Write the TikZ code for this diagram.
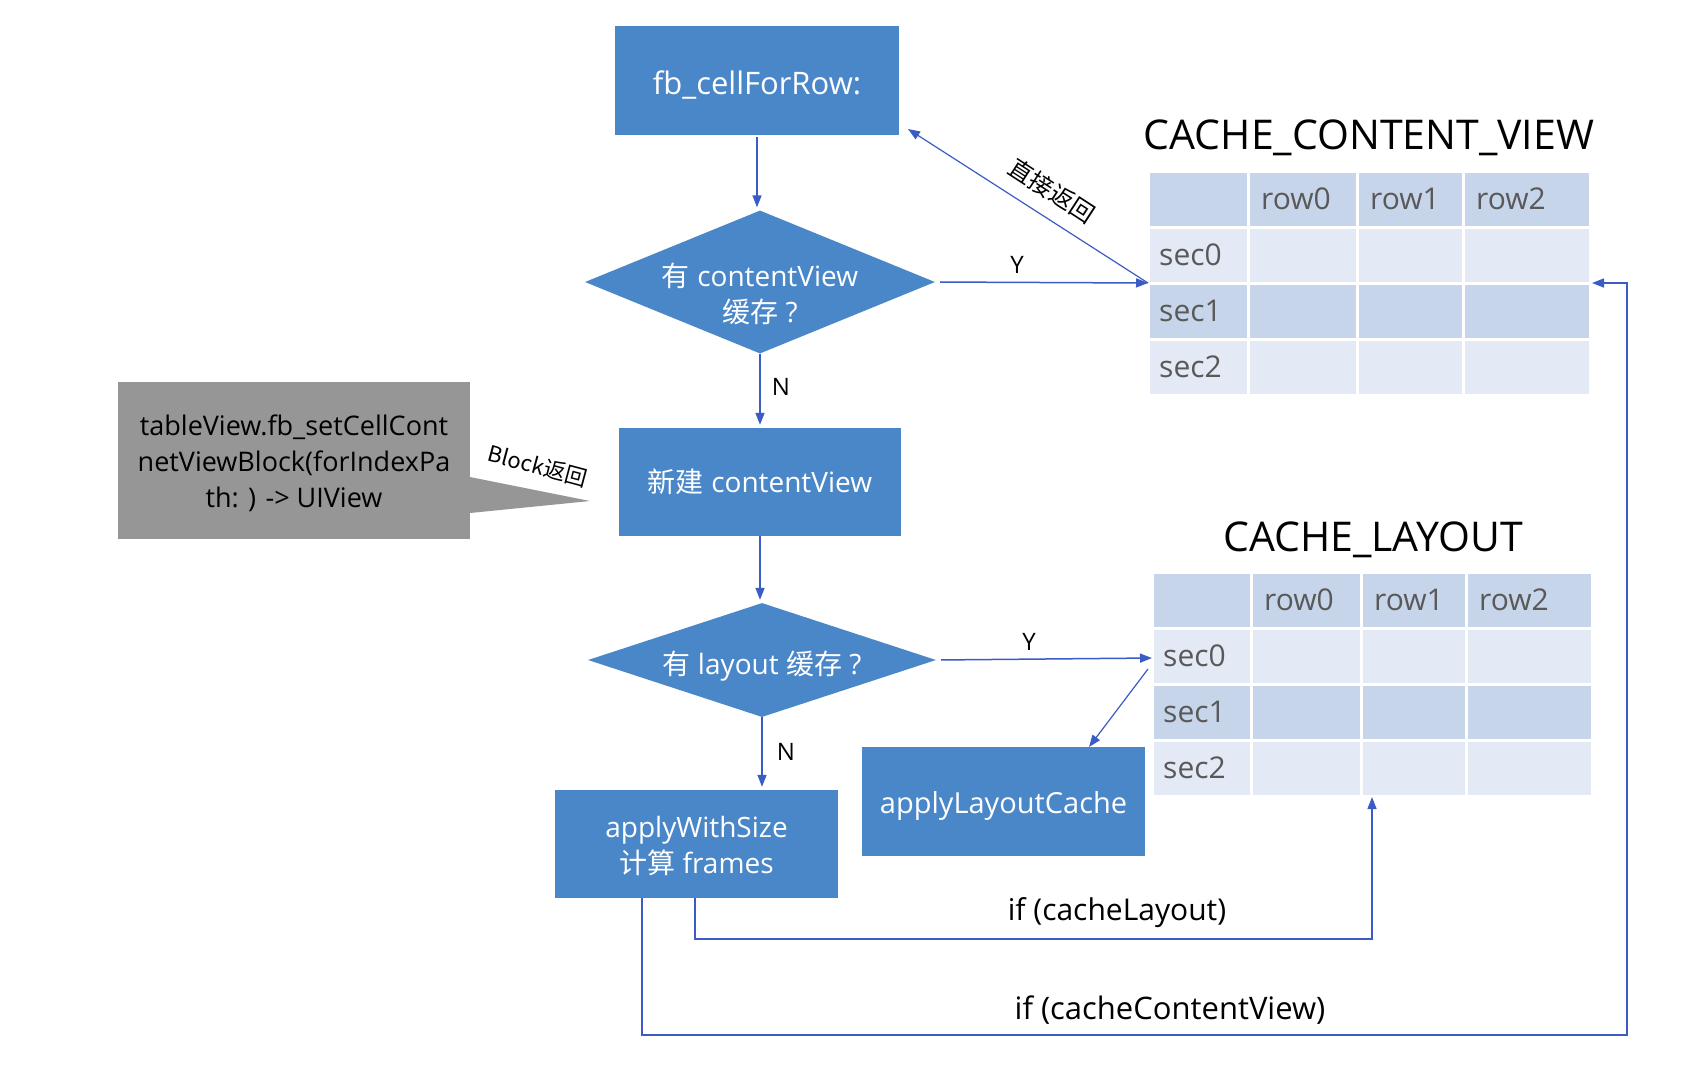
\documentclass[tikz,border=0pt]{standalone}
\usepackage{fontspec}
\setmainfont{Open Sans}
\newfontfamily\cjk{Noto Sans CJK SC}
\usetikzlibrary{arrows.meta,shapes.geometric}
\definecolor{boxblue}{RGB}{74,135,201}
\definecolor{lineblue}{RGB}{58,92,196}
\definecolor{celldark}{RGB}{199,213,235}
\definecolor{celllight}{RGB}{227,234,245}
\definecolor{celltext}{RGB}{89,89,89}
\definecolor{calloutgray}{RGB}{150,150,150}
\tikzset{
  fbox/.style={rectangle, fill=boxblue, text=white, inner sep=0pt, align=center, font=\fontsize{28}{36}\selectfont},
  boxtxt/.style={inner sep=0pt, text=white, align=center, font=\fontsize{28}{36}\selectfont},
  dec/.style={diamond, fill=boxblue, inner sep=0pt},
  dectext/.style={inner sep=0pt, text=white, align=center, font=\fontsize{28}{36}\selectfont},
  conn/.style={draw=lineblue, line width=1.5pt, -{Triangle[length=12pt,width=9pt]}},
  lbl/.style={inner sep=0pt, text=black, font=\fontsize{24}{28}\selectfont},
  biglbl/.style={inner sep=0pt, text=black, font=\fontsize{30}{36}\selectfont},
  celltxt/.style={inner sep=0pt, anchor=west, text=celltext, font=\fontsize{30}{36}\selectfont},
  ttl/.style={inner sep=0pt, text=black, font=\fontsize{41}{48}\selectfont},
}
\begin{document}
\begin{tikzpicture}[x=1pt,y=-1pt]
\useasboundingbox (0,0) rectangle (1702,1080);
\fill[white] (0,0) rectangle (1702,1080);

% ---------- flow nodes ----------
\node[fbox, minimum width=284pt, minimum height=109pt] (fb) at (757,80.5) {};
\node[boxtxt, font=\fontsize{31}{37}\selectfont] (fbt) at ([yshift=-5pt]fb.center) {fb\_cellForRow:};
\node[dec, minimum width=350pt, minimum height=143pt] (d1) at (760,282) {};
\node[dectext] (d1t) at (760,294) {{\cjk 有} contentView\\{\cjk 缓存} ?};
\node[fbox, minimum width=282pt, minimum height=108pt] (nc) at (760,482) {{\cjk 新建} contentView};
\node[dec, minimum width=348pt, minimum height=114pt] (d2) at (762,660) {};
\node[dectext] (d2t) at (762,666) {{\cjk 有} layout {\cjk 缓存} ?};
\node[fbox, minimum width=283pt, minimum height=108pt] (aws) at (696.5,844) {};
\node[boxtxt] (awst) at ([yshift=-2pt]aws.center) {applyWithSize\\{\cjk 计算} frames};
\node[fbox, minimum width=283pt, minimum height=109pt] (alc) at (1003.5,801.5) {};
\node[boxtxt, font=\fontsize{29}{36}\selectfont] (alct) at ([yshift=-4pt]alc.center) {applyLayoutCache};

% ---------- grey callout ----------
\fill[calloutgray] (470,477) -- (590,501) -- (470,513) -- cycle;
\node[fill=calloutgray, minimum width=352pt, minimum height=157pt, inner sep=0pt] (gb) at (294,460.5) {};
\node[inner sep=0pt, align=center, text=black, font=\fontsize{27}{36}\selectfont] (gbt) at ([yshift=-3pt]gb.center) {tableView.fb\_setCellCont\\netViewBlock(forIndexPa\\th: ) -> UIView};
\node[lbl, rotate=-15, font=\cjk\fontsize{22}{26}\selectfont] (blk) at (538,466) {Block返回};

% ---------- table 1 ----------
\foreach \ya/\yb/\c in {171/227/celldark, 227/283/celllight, 283/339/celldark, 339/395/celllight}{
  \foreach \xa/\xb in {1148/1248,1248/1357,1357/1463,1463/1590}{
    \fill[\c] (\xa+1.5,\ya+1.5) rectangle (\xb-1.5,\yb-1.5);
  }
}
\node[ttl] (title1) at (1369,138) {CACHE\_CONTENT\_VIEW};
\node[celltxt] (t1c0) at (1261,199) {row0};
\node[celltxt] (t1c1) at (1370,199) {row1};
\node[celltxt] (t1c2) at (1476,199) {row2};
\node[celltxt] (t1r0) at (1159,255) {sec0};
\node[celltxt] (t1r1) at (1159,311) {sec1};
\node[celltxt] (t1r2) at (1159,367) {sec2};
\coordinate (t1L) at (1148,283);
\coordinate (t1R) at (1592,283);

% ---------- table 2 ----------
\foreach \ya/\yb/\c in {572/628/celldark, 628/684/celllight, 684/740/celldark, 740/796/celllight}{
  \foreach \xa/\xb in {1152/1251,1251/1361,1361/1466,1466/1592}{
    \fill[\c] (\xa+1.5,\ya+1.5) rectangle (\xb-1.5,\yb-1.5);
  }
}
\node[ttl] (title2) at (1373,540) {CACHE\_LAYOUT};
\node[celltxt] (t2c0) at (1264,600) {row0};
\node[celltxt] (t2c1) at (1374,600) {row1};
\node[celltxt] (t2c2) at (1479,600) {row2};
\node[celltxt] (t2r0) at (1163,656) {sec0};
\node[celltxt] (t2r1) at (1163,712) {sec1};
\node[celltxt] (t2r2) at (1163,768) {sec2};
\coordinate (t2L) at (1152,658);
\coordinate (t2Ls) at (1148,669);
\coordinate (t2B) at (1372,797);
\coordinate (fbtip) at (908,129);
\coordinate (alctop) at (1089,747);

% ---------- connectors ----------
\draw[conn, shorten <=2pt, shorten >=3pt] (fb.south) -- (fb.south |- d1.north);
\draw[conn, shorten >=3pt] (d1.south) -- (nc.north);
\node[lbl] (n1) at (781,387) {N};
\draw[conn, shorten >=3pt] (nc.south) -- (nc.south |- d2.north);
\draw[conn, shorten >=3pt] (d2.south) -- (d2.south |- aws.north);
\node[lbl] (n2) at (786,752) {N};
\draw[conn, shorten <=5pt] (d1.east) -- (t1L);
\node[lbl] (y1) at (1017,265) {Y};
\draw[conn, shorten <=5pt] (d2.east) -- (t2L);
\node[lbl] (y2) at (1029,642) {Y};
\draw[conn, line width=1.2pt] (t1L) -- (fbtip);
\node[lbl, rotate=-33] (zj) at (1052,191) {\cjk 直接返回};
\draw[conn, line width=1.2pt] (t2Ls) -- (alctop);
\draw[conn] ([xshift=-1.5pt]aws.south) -- ++(0,41) -| (t2B);
\node[biglbl] (lcl) at (1117,913) {if (cacheLayout)};
\draw[conn] ([xshift=87pt]aws.south west) -- ++(0,137) -| ([xshift=35pt]t1R) -- (t1R);
\node[biglbl, font=\fontsize{31}{36}\selectfont] (lccv) at (1170,1010) {if (cacheContentView)};
\end{tikzpicture}
\end{document}
